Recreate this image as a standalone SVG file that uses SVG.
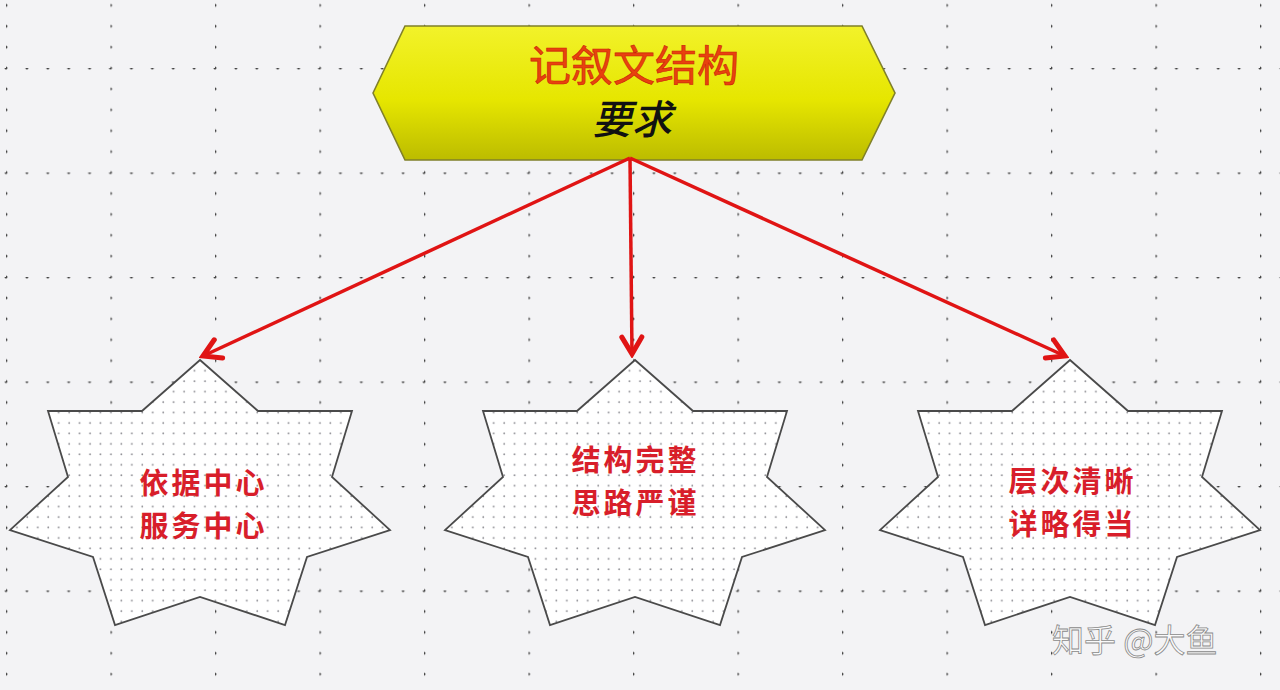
<svg xmlns="http://www.w3.org/2000/svg" width="1280" height="690" viewBox="0 0 1280 690">
  <defs>
    <style>
      .star { stroke: #4a4a4a; stroke-width: 1.8; stroke-linejoin: miter; }
      .startxt { font-family: "Noto Sans CJK SC", "Noto Sans", sans-serif; font-size: 29px; letter-spacing: 3px; font-weight: 700; fill: #d81e2a; text-anchor: middle; }
      .conn { stroke: #e01414; stroke-width: 3.5; fill: none; }
    </style>
    <pattern id="grid" patternUnits="userSpaceOnUse" x="6" y="68" width="104.5" height="104.5">
      <g fill="#454545">
        <circle cx="0" cy="0" r="1.5"/><circle cx="20.9" cy="0" r="1.5"/><circle cx="41.8" cy="0" r="1.5"/><circle cx="62.7" cy="0" r="1.5"/><circle cx="83.6" cy="0" r="1.5"/><circle cx="104.5" cy="0" r="1.5"/>
        <circle cx="0" cy="20.9" r="1.5"/><circle cx="0" cy="41.8" r="1.5"/><circle cx="0" cy="62.7" r="1.5"/><circle cx="0" cy="83.6" r="1.5"/><circle cx="0" cy="104.5" r="1.5"/>
      </g>
    </pattern>
    <pattern id="fine" patternUnits="userSpaceOnUse" x="0" y="0" width="10.45" height="10.45">
      <rect width="10.45" height="10.45" fill="#ffffff"/>
      <circle cx="5" cy="5" r="0.9" fill="#8a8a90"/>
    </pattern>
    <linearGradient id="yel" x1="0" y1="0" x2="0" y2="1">
      <stop offset="0" stop-color="#f2f22a"/>
      <stop offset="0.55" stop-color="#e6e600"/>
      <stop offset="1" stop-color="#bcbc00"/>
    </linearGradient>
    <marker id="arr" markerUnits="userSpaceOnUse" viewBox="-20 -13 24 26" refX="0" refY="0" markerWidth="24" markerHeight="26" orient="auto">
      <path d="M-17,-10 L0,0 L-17,10" fill="none" stroke="#e01414" stroke-width="5" stroke-linejoin="miter" stroke-linecap="round"/>
    </marker>
    <path id="starshape" d="M0,360 L58,411 L152,411 L132,477 L190,530 L107,557 L85,625 L0,597 L-85,625 L-107,557 L-190,530 L-132,477 L-152,411 L-58,411 Z"/>
  </defs>

  <rect width="1280" height="690" fill="#f3f3f5"/>
  <rect width="1280" height="690" fill="url(#grid)"/>

  <g id="header">
    <polygon points="373,93 405,26 862,26 895,93 862,160 405,160" fill="url(#yel)" stroke="#80802a" stroke-width="1.6"/>
    <text x="634" y="81" font-family="'Noto Sans CJK SC', 'Noto Sans', sans-serif" font-size="42" fill="#e8420e" stroke="#c8200a" stroke-width="0.6" text-anchor="middle">记叙文结构</text>
    <text x="0" y="0" transform="translate(632,134) skewX(-14)" font-family="'Noto Sans CJK SC', 'Noto Sans', sans-serif" font-size="40" font-weight="500" fill="#111" text-anchor="middle">要求</text>
  </g>

  <g id="connectors">
    <line class="conn" x1="630" y1="158" x2="203" y2="356" marker-end="url(#arr)"/>
    <line class="conn" x1="630" y1="158" x2="632" y2="354" marker-end="url(#arr)"/>
    <line class="conn" x1="630" y1="158" x2="1065" y2="356" marker-end="url(#arr)"/>
  </g>

  <g id="star-left">
    <use href="#starshape" transform="translate(200,0)" fill="url(#fine)" class="star"/>
    <text class="startxt"><tspan x="203.5" y="494">依据中心</tspan><tspan x="203.5" y="537">服务中心</tspan></text>
  </g>

  <g id="star-middle">
    <use href="#starshape" transform="translate(635,0)" fill="url(#fine)" class="star"/>
    <text class="startxt"><tspan x="635.5" y="471">结构完整</tspan><tspan x="635.5" y="514">思路严谨</tspan></text>
  </g>

  <g id="star-right">
    <use href="#starshape" transform="translate(1070,0)" fill="url(#fine)" class="star"/>
    <text class="startxt"><tspan x="1072.5" y="492">层次清晰</tspan><tspan x="1072.5" y="535">详略得当</tspan></text>
  </g>

  <g id="watermark">
    <text x="1052" y="652" font-family="'Noto Sans CJK SC', 'Noto Sans', sans-serif" font-size="32" fill="#fafafa" stroke="#8a8a8a" stroke-width="0.8">知乎 @大鱼</text>
  </g>
</svg>
